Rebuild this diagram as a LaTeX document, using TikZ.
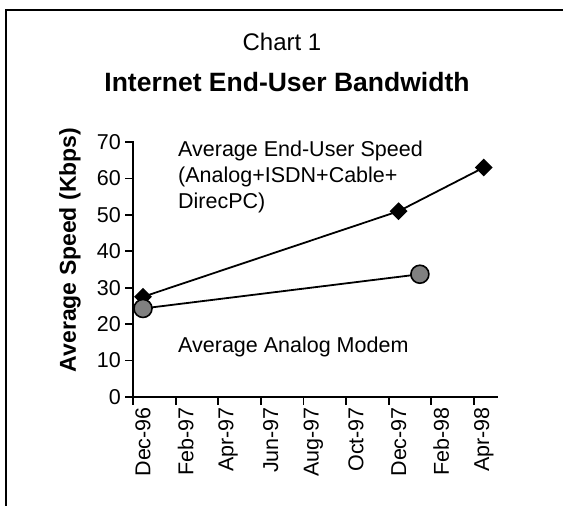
\documentclass[tikz,border=0pt]{standalone}
\usepackage{fontspec}
\setmainfont{Liberation Sans}
\usetikzlibrary{shapes.geometric}
\pgfdeclarelayer{bg}
\pgfsetlayers{bg,main}
\begin{document}
\begin{tikzpicture}[x=1pt,y=-1pt,
  lbl/.style={font=\fontsize{21.5}{26}\selectfont, inner sep=0pt},
  axisline/.style={line width=1.8pt, line cap=rect},
  series/.style={line width=1.8pt},
  diam/.style={diamond, fill=black, minimum size=18pt, inner sep=0pt},
  dot/.style={circle, fill=gray, draw=black, line width=1.6pt, minimum size=18pt, inner sep=0pt}]
\useasboundingbox (0,0) rectangle (563,506);
% frame (open towards right and bottom edges)
\draw[line width=2.4pt] (6,506) -- (6,10) -- (563,10);

% titles
\node[font=\fontsize{24}{28}\selectfont, inner sep=0pt] (chartno) at (282,42) {Chart 1};
\node[font=\fontsize{26.5}{30}\selectfont\bfseries, inner sep=0pt] (charttitle) at (287,82) {Internet End-User Bandwidth};

% axes
\coordinate (origin) at (133,397);
\coordinate (ytop) at (133,142);
\coordinate (xend) at (497,397);
\draw[axisline] (ytop) -- (origin) -- (xend);

% y ticks and labels
\foreach \v in {0,10,...,70} {
  \coordinate (yt\v) at (133,{397-3.643*\v});
  \draw[line width=1.8pt] (yt\v) -- ++(-8,0);
  \node[lbl, anchor=east] (yl\v) at ({133-12},{397-3.643*\v}) {\v};
}
% x ticks and labels
\foreach \k/\t in {0/Dec-96,1/Feb-97,2/Apr-97,3/Jun-97,4/Aug-97,5/Oct-97,6/Dec-97,7/Feb-98,8/Apr-98} {
  \coordinate (xt\k) at ({133+42.6*\k},397);
  \draw[line width=1.8pt] (xt\k) -- ++(0,8);
  \node[lbl, rotate=90, anchor=east] (xl\k) at ({143+42.6*\k},407) {\t};
}

% axis title
\node[font=\fontsize{23}{27}\selectfont\bfseries, rotate=90, inner sep=0pt] (ytitle) at (70,250) {Average Speed (Kbps)};

% series markers
\node[diam] (d1) at ({143+21.3*0},{397-3.643*27.5}) {};
\node[diam] (d2) at ({143+21.3*12},{397-3.643*51}) {};
\node[diam] (d3) at ({143+21.3*16},{397-3.643*63}) {};
\node[dot] (c1) at ({143+21.3*0},{397-3.643*24.3}) {};
\node[dot] (c2) at ({143+21.3*13},{397-3.643*33.7}) {};
\begin{pgfonlayer}{bg}
  \draw[series] (d1.center) -- (d2.center) -- (d3.center);
  \draw[series] (c1.center) -- (c2.center);
\end{pgfonlayer}

% series labels
\node[lbl, align=left, anchor=north west] (lab1) at (178,141) {Average End-User Speed\\(Analog+ISDN+Cable+\\DirecPC)};
\node[lbl, anchor=west] (lab2) at (178,347) {Average Analog Modem};
\end{tikzpicture}
\end{document}
